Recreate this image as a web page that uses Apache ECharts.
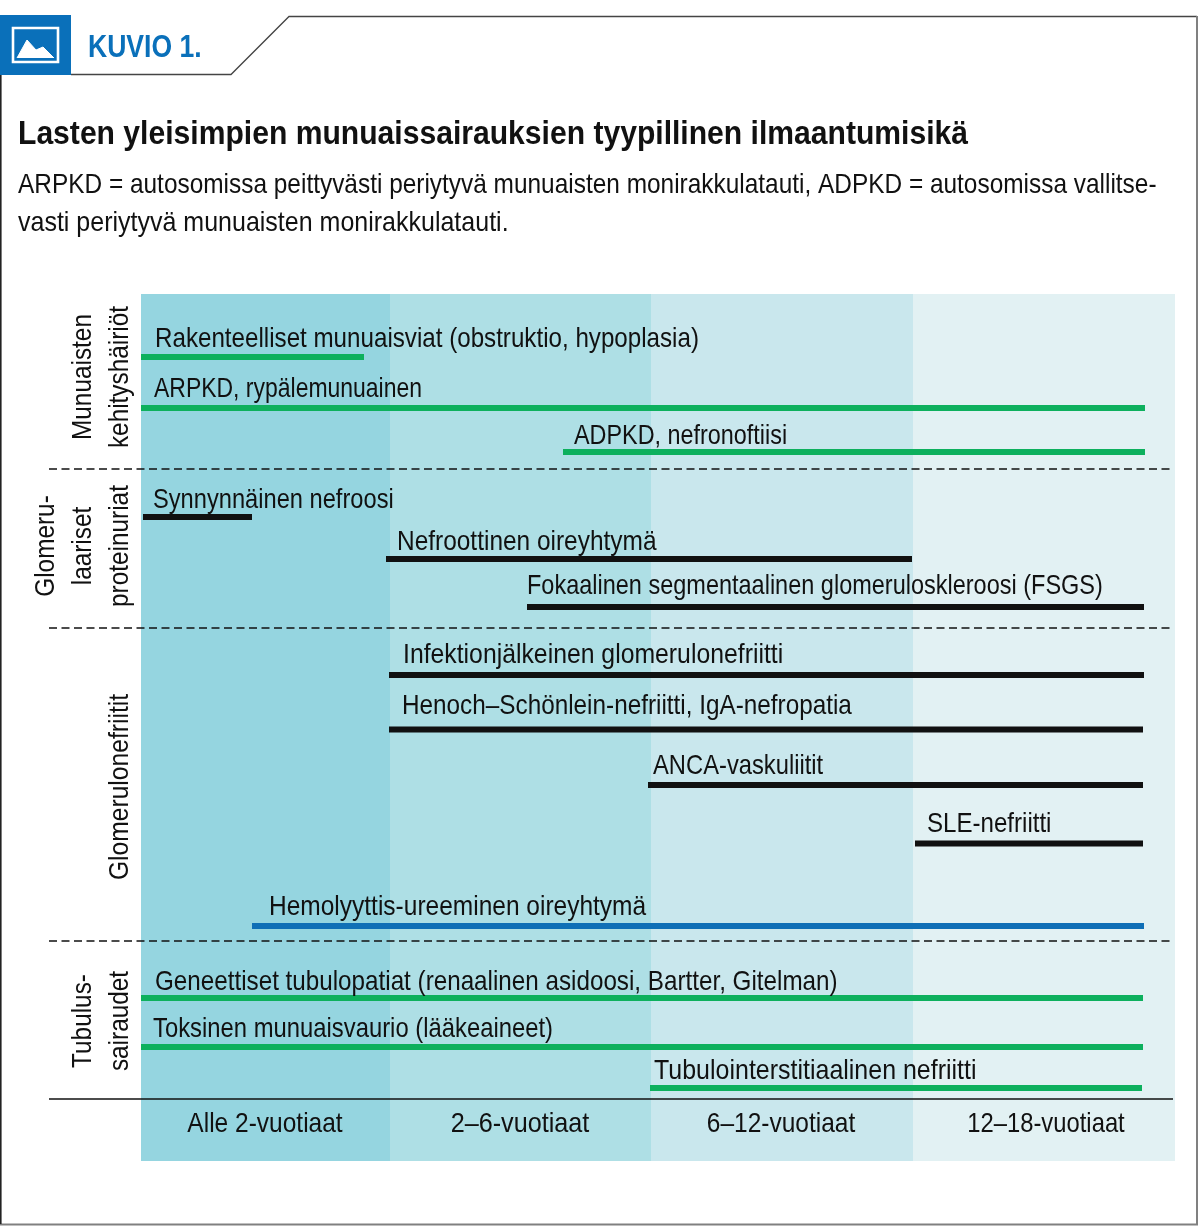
<!DOCTYPE html>
<html><head><meta charset="utf-8">
<style>html,body{margin:0;padding:0;background:#fff}#c{width:1200px;height:1229px}</style>
<script src="https://cdn.jsdelivr.net/npm/echarts@6/dist/echarts.min.js"></script>
</head><body><div id="c"></div>
<script>
const FONT = '"Liberation Sans",sans-serif';
const INK = '#111';
const bandEdges = [0, 249, 510, 772, 1034];
const bandColors = ['#95d5e0', '#aedfe5', '#c9e7ed', '#e2f1f3'];
const ageLabels = ['Alle 2-vuotiaat', '2–6-vuotiaat', '6–12-vuotiaat', '12–18-vuotiaat'];
const ageLabelPos = [124, 379, 640, 905];
const ageLabelFit = [.875,.9,.875,.85];
const ageLabelY = 830;
const diseaseNames = [
 'Rakenteelliset munuaisviat (obstruktio, hypoplasia)','ARPKD, rypälemunuainen','ADPKD, nefronoftiisi',
 'Synnynnäinen nefroosi','Nefroottinen oireyhtymä','Fokaalinen segmentaalinen glomeruloskleroosi (FSGS)',
 'Infektionjälkeinen glomerulonefriitti','Henoch–Schönlein-nefriitti, IgA-nefropatia','ANCA-vaskuliitit','SLE-nefriitti',
 'Hemolyyttis-ureeminen oireyhtymä',
 'Geneettiset tubulopatiat (renaalinen asidoosi, Bartter, Gitelman)','Toksinen munuaisvaurio (lääkeaineet)','Tubulointerstitiaalinen nefriitti'];
const spanStart = [0,0,422, 2,245,386, 248,248,507,774,111, 0,0,509];
const spanEnd   = [223,1004,1004, 111,771,1003, 1003,1002,1002,1002,1003, 1002,1002,1001];
const rowY      = [63,114,158, 223,265,313, 381,435.5,491,549.5,632, 704,753,794];
const spanColor = ['g','g','g','k','k','k','k','k','k','k','b','g','g','g'];
const labelX    = [14,13,433, 12,256,386, 262,261,512,786,128, 14,12,513];
const labelY    = [45,95,142, 206,248,292, 361,412,472,530,613, 688,735,777];
const labelFit  = [.863,.82,.835,.845,.873,.839,.885,.868,.848,.86,.875,.865,.851,.892];
const groupNames = ['Munuaisten\nkehityshäiriöt','Glomeru-\nlaariset\nproteinuriat','Glomerulonefriitit','Tubulus-\nsairaudet'];
const groupY = [83, 252, 493, 727];
const groupFit = [.87,.87,.88,.87];
const dividerY = [175, 334, 647];
const baselineY = 805;
const colors = {g:'#0db05d',k:'#111111',b:'#0f6fb6'};

const chart = echarts.init(document.getElementById('c'), null, {renderer:'canvas'});
const txt = (text,x,y,size,sx,weight,fill) => ({type:'text',x,y,scaleX:sx,z:5,
  style:{text,fontFamily:FONT,fontWeight:weight||'normal',fontSize:size,fill:fill||INK,verticalAlign:'middle'}});
chart.setOption({
 animation:false,
 grid:{left:49,right:25,top:294,height:867},
 xAxis:{type:'value',min:-92,max:1034,show:false,splitLine:{show:false}},
 yAxis:{type:'value',min:0,max:867,inverse:true,show:false,splitLine:{show:false}},
 graphic:[
  {type:'polyline',shape:{points:[[71,74.5],[231,74.5],[289,16.5],[1197,16.5]]},style:{stroke:'#444',lineWidth:1.3,fill:null}},
  {type:'polyline',shape:{points:[[1197,16],[1197,1224.5],[0,1224.5]]},style:{stroke:'#808080',lineWidth:2,fill:null}},
  {type:'line',shape:{x1:0.8,y1:74,x2:0.8,y2:1224},style:{stroke:'#222',lineWidth:1.6}},
  {type:'rect',shape:{x:0,y:15,width:71,height:60},style:{fill:'#0a70ba'}},
  {type:'rect',shape:{x:13,y:28,width:45,height:34},style:{stroke:'#fff',lineWidth:2.6,fill:null}},
  {type:'polyline',shape:{points:[[17,58],[27,40],[36,50],[43,47],[54,58]]},style:{fill:'#fff',stroke:'#fff',lineWidth:1}},
  txt('KUVIO 1.',88,48,32,.83,'bold','#0a70ba'),
  txt('Lasten yleisimpien munuaissairauksien tyypillinen ilmaantumisikä',18,135,33,.912,'bold'),
  txt('ARPKD = autosomissa peittyvästi periytyvä munuaisten monirakkulatauti, ADPKD = autosomissa vallitse-',18,185,28,.872),
  txt('vasti periytyvä munuaisten monirakkulatauti.',18,223,28,.893)
 ],
 series:[
  {type:'custom',name:'bands',coordinateSystem:'cartesian2d',silent:true,z:1,
   data:bandColors.map((c,i)=>[bandEdges[i],bandEdges[i+1],i]),
   renderItem:(p,api)=>{const a=api.coord([api.value(0),0]),b=api.coord([api.value(1),867]);
    return {type:'rect',shape:{x:a[0],y:a[1],width:b[0]-a[0],height:b[1]-a[1]},style:{fill:bandColors[api.value(2)]}};}},
  {type:'custom',name:'dividers',coordinateSystem:'cartesian2d',silent:true,z:2,
   data:dividerY.map(y=>[y,1,1033]).concat([[baselineY,0,1032]]),
   renderItem:(p,api)=>{const a=api.coord([-92,api.value(0)]),b=api.coord([api.value(2),api.value(0)]);
    return {type:'line',shape:{x1:a[0],y1:a[1],x2:b[0],y2:b[1]},
     style:{stroke:'#111',lineWidth:1.5,lineDash:api.value(1)?[8,4.5]:null}};}},
  {type:'custom',name:'spans',coordinateSystem:'cartesian2d',silent:true,z:3,
   data:diseaseNames.map((n,i)=>[spanStart[i],spanEnd[i],rowY[i],i]),
   renderItem:(p,api)=>{const i=api.value(3),a=api.coord([api.value(0),api.value(2)]),b=api.coord([api.value(1),api.value(2)]);
    const t=api.coord([labelX[i],labelY[i]]);
    return {type:'group',children:[
     {type:'rect',shape:{x:a[0],y:a[1]-3,width:b[0]-a[0],height:6},style:{fill:colors[spanColor[i]]}},
     {type:'text',x:t[0],y:t[1],scaleX:labelFit[i],style:{text:diseaseNames[i],fontFamily:FONT,fontSize:28,fill:INK,align:'left',verticalAlign:'middle'}}
    ]};}},
  {type:'custom',name:'ages',coordinateSystem:'cartesian2d',silent:true,z:4,
   data:ageLabelPos.map((x,i)=>[x,ageLabelY,i]),
   renderItem:(p,api)=>{const i=api.value(2),t=api.coord([api.value(0),api.value(1)]);
    return {type:'text',x:t[0],y:t[1],scaleX:ageLabelFit[i],style:{text:ageLabels[i],fontFamily:FONT,fontSize:28,fill:INK,align:'center',verticalAlign:'middle'}};}},
  {type:'custom',name:'groups',coordinateSystem:'cartesian2d',silent:true,z:4,
   data:groupNames.map((n,i)=>[-2,groupY[i],i]),
   renderItem:(p,api)=>{const i=api.value(2),t=api.coord([api.value(0),api.value(1)]);
    return {type:'text',x:t[0],y:t[1],rotation:Math.PI/2,scaleX:groupFit[i],
     style:{text:groupNames[i],fontFamily:FONT,fontSize:28,lineHeight:37,fill:INK,align:'center',verticalAlign:'bottom'}};}}
 ]
});
</script></body></html>
